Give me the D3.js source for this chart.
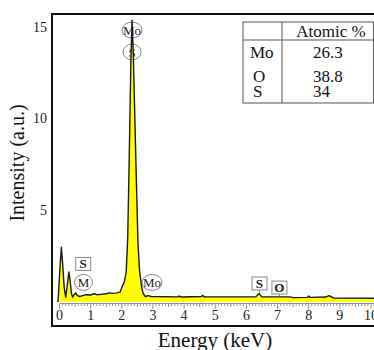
<!DOCTYPE html>
<html>
<head>
<meta charset="utf-8">
<script src="https://cdn.jsdelivr.net/npm/d3@7"></script>
<style>
  body { margin: 0; background: #fff; }
  svg { display: block; }
  text { font-family: "Liberation Serif", "DejaVu Serif", "Times New Roman", serif; }
</style>
</head>
<body>
<div id="chart"></div>
<script>
// spectrum: [energy keV, intensity a.u.]
const spectrum = [
  [-0.05, 0], [-0.03, 0.5], [0.02, 2.0], [0.06, 3.0], [0.1, 2.1], [0.15, 0.8],
  [0.2, 0.27], [0.25, 0.9], [0.3, 1.64], [0.34, 1.2], [0.38, 0.5], [0.42, 0.27],
  [0.47, 0.4], [0.52, 0.5], [0.58, 0.35], [0.65, 0.3], [0.75, 0.35], [0.85, 0.4],
  [1.0, 0.38], [1.1, 0.45], [1.2, 0.4], [1.35, 0.42], [1.5, 0.45], [1.6, 0.5],
  [1.7, 0.47], [1.85, 0.5], [1.95, 0.55], [2.0, 0.8], [2.08, 1.1], [2.14, 1.6],
  [2.19, 3.5], [2.24, 8.0], [2.29, 13.0], [2.33, 15.4], [2.37, 13.5], [2.42, 10.0],
  [2.47, 6.5], [2.52, 3.2], [2.57, 1.7], [2.63, 0.9], [2.68, 0.5], [2.75, 0.3],
  [2.85, 0.35], [2.95, 0.3], [3.8, 0.28], [3.85, 0.33], [3.9, 0.27], [4.55, 0.3],
  [4.6, 0.36], [4.65, 0.28], [6.3, 0.28], [6.4, 0.45], [6.5, 0.28], [7.4, 0.28],
  [7.5, 0.24], [7.95, 0.25], [8.0, 0.33], [8.05, 0.25], [8.55, 0.27], [8.65, 0.35],
  [8.8, 0.22], [10.2, 0.2]
];

const xTicks = d3.range(0, 11);
const yTicks = [5, 10, 15];

// element markers: label, shape, energy, intensity of the marker centre
const markers = [
  { text: "Mo", shape: "circle", e: 2.33, v: 14.86 },
  { text: "S", shape: "circle", e: 2.33, v: 13.66 },
  { text: "M", shape: "circle", e: 0.77, v: 1.07 },
  { text: "S", shape: "box", e: 0.76, v: 2.08 },
  { text: "Mo", shape: "circle", e: 2.97, v: 1.07 },
  { text: "S", shape: "box", e: 6.42, v: 1.01, stem: 0.4 },
  { text: "O", shape: "box", e: 7.06, v: 0.79, stem: 0.27 }
];

const tableHeader = "Atomic %";
const elements = ["Mo", "O", "S"];
const atomic = ["26.3", "38.8", "34"];

const width = 374, height = 350;
const frame = { left: 52, top: 14, bottom: 326 };

const svg = d3.select("#chart").append("svg")
  .attr("width", width)
  .attr("height", height);

const x = d3.scaleLinear().domain([0, 10]).range([59.5, 371]);
const y = d3.scaleLinear().domain([0, 15]).range([302, 27.5]);

//frame
svg.append("rect")
  .attr("x", frame.left).attr("y", frame.top)
  .attr("width", 400).attr("height", frame.bottom - frame.top)
  .attr("fill", "none").attr("stroke", "#111").attr("stroke-width", 2);

//x ruler ticks, minor every 0.1 keV
const minor = d3.range(0, 10.3, 0.1);
svg.append("line")
  .attr("x1", x(0)).attr("x2", width)
  .attr("y1", 303.5).attr("y2", 303.5)
  .attr("stroke", "#777").attr("stroke-width", 0.8);
svg.append("g").selectAll("line")
  .data(minor)
  .join("line")
  .attr("x1", d => x(d)).attr("x2", d => x(d))
  .attr("y1", 303.5)
  .attr("y2", (d, i) => i % 10 == 0 ? 309 : (i % 5 == 0 ? 307 : 306))
  .attr("stroke", "#777").attr("stroke-width", 0.8);

svg.append("g").selectAll("text")
  .data(xTicks)
  .join("text")
  .attr("x", d => x(d))
  .attr("y", 320)
  .attr("text-anchor", "middle")
  .attr("font-size", 14)
  .attr("fill", "#222")
  .text(d => d);

svg.append("g").selectAll("text")
  .data(yTicks)
  .join("text")
  .attr("x", 47)
  .attr("y", d => y(d) + 4)
  .attr("text-anchor", "end")
  .attr("font-size", 14)
  .attr("fill", "#222")
  .text(d => d);

//axis titles
svg.append("text")
  .attr("x", 215).attr("y", 347)
  .attr("text-anchor", "middle")
  .attr("font-size", 21)
  .attr("fill", "#111")
  .text("Energy (keV)");

svg.append("text")
  .attr("transform", "translate(24,163) rotate(-90)")
  .attr("text-anchor", "middle")
  .attr("font-size", 20)
  .attr("fill", "#111")
  .text("Intensity (a.u.)");

//markers under the spectrum
const mk = svg.append("g").selectAll("g")
  .data(markers)
  .join("g")
  .attr("transform", d => `translate(${x(d.e)},${y(d.v)})`);

mk.filter(d => d.shape == "circle").append("ellipse")
  .attr("rx", d => d.text == "Mo" ? 10 : 9)
  .attr("ry", 8)
  .attr("fill", "none").attr("stroke", "#888").attr("stroke-width", 1);

mk.filter(d => d.shape == "box").append("rect")
  .attr("x", -7.5).attr("y", -6.5)
  .attr("width", 15).attr("height", 13)
  .attr("fill", "#fff").attr("stroke", "#888").attr("stroke-width", 1);

mk.filter(d => d.stem != null).append("line")
  .attr("x1", 0).attr("x2", 0)
  .attr("y1", 6.5)
  .attr("y2", d => y(d.stem) - y(d.v))
  .attr("stroke", "#888").attr("stroke-width", 1);

mk.append("text")
  .attr("y", 4.5)
  .attr("text-anchor", "middle")
  .attr("font-size", 13)
  .attr("font-weight", d => d.shape == "box" ? "bold" : "normal")
  .attr("fill", "#222")
  .text(d => d.text);

//spectrum
const area = d3.area()
  .x(d => x(d[0]))
  .y0(y(0))
  .y1(d => y(d[1]));
const line = d3.line()
  .x(d => x(d[0]))
  .y(d => y(d[1]));

svg.append("path")
  .datum(spectrum)
  .attr("d", area)
  .attr("fill", "#ffff00");

svg.append("path")
  .datum(spectrum)
  .attr("d", line)
  .attr("fill", "none")
  .attr("stroke", "#1a1a1a")
  .attr("stroke-width", 1.4)
  .attr("stroke-linejoin", "round");

//table
const tb = svg.append("g");
const tbL = 243, tbDiv = 282, tbR = 373.5, tbT = 22, tbH = 40, tbB = 103;
tb.append("rect")
  .attr("x", tbL).attr("y", tbT)
  .attr("width", tbR - tbL).attr("height", tbB - tbT)
  .attr("fill", "#fff").attr("stroke", "#555").attr("stroke-width", 1);
tb.append("line")
  .attr("x1", tbDiv).attr("x2", tbDiv).attr("y1", tbT).attr("y2", tbB)
  .attr("stroke", "#555");
tb.append("line")
  .attr("x1", tbL).attr("x2", tbR).attr("y1", tbH).attr("y2", tbH)
  .attr("stroke", "#555");
tb.append("text")
  .attr("x", 331).attr("y", 37)
  .attr("text-anchor", "middle")
  .attr("font-size", 17)
  .attr("fill", "#111")
  .text(tableHeader);

const rowY = [58, 82, 97];
tb.selectAll(".el")
  .data(elements)
  .join("text")
  .attr("class", "el")
  .attr("x", (d, i) => i == 0 ? 250 : 253)
  .attr("y", (d, i) => rowY[i])
  .attr("font-size", 17)
  .attr("fill", "#111")
  .text(d => d);
tb.selectAll(".val")
  .data(atomic)
  .join("text")
  .attr("class", "val")
  .attr("x", 313)
  .attr("y", (d, i) => rowY[i])
  .attr("font-size", 17)
  .attr("fill", "#111")
  .text(d => d);
</script>
</body>
</html>
